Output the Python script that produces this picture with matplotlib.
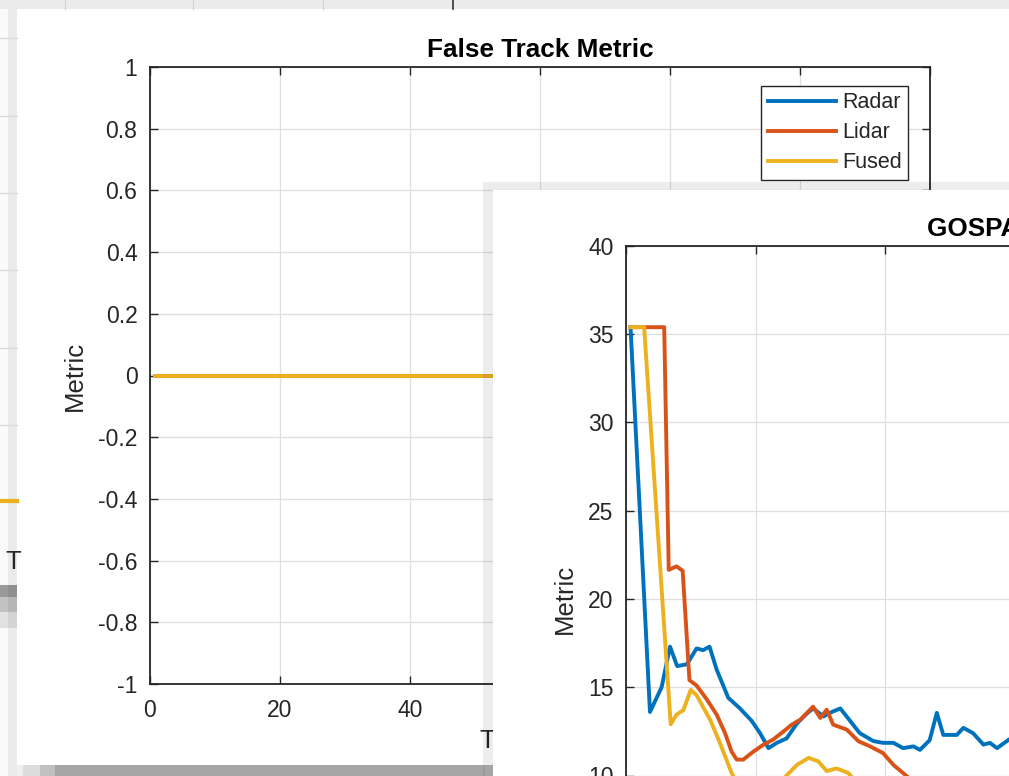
#!/usr/bin/env python3
"""Two overlapping MATLAB-style figure windows: False Track Metric and GOSPA Metric."""

import matplotlib

matplotlib.use("Agg")

import matplotlib.pyplot as plt
from matplotlib import patches

W, H = 1009, 776

RADAR = "#0072BD"
LIDAR = "#D95319"
FUSED = "#EDB120"
AXIS = "#262626"
GRID = "#dfdfdf"

SERIES_NAMES = ["Radar", "Lidar", "Fused"]

# False Track Metric window: every series stays at zero
FT_TIME = [0.75, 20.0, 40.0, 60.0, 80.0, 100.0]
FT_RADAR = [0, 0, 0, 0, 0, 0]
FT_LIDAR = [0, 0, 0, 0, 0, 0]
FT_FUSED = [0, 0, 0, 0, 0, 0]

# GOSPA Metric window (only the visible part of the curves)
RADAR_TIME = [0.7, 3.7, 5.5, 6.8, 7.9, 9.4, 10.9, 11.9, 12.9, 14.0, 15.8, 17.6,
              19.4, 20.7, 22.0, 23.3, 24.8, 26.4, 27.9, 28.9, 30.5, 31.8, 33.1,
              34.6, 36.1, 38.2, 39.7, 41.3, 42.8, 44.4, 45.4, 46.9, 48.0, 49.0,
              51.1, 52.1, 53.6, 55.2, 56.2, 57.3, 59.2, 61.0]
RADAR_GOSPA = [35.4, 13.6, 15.0, 17.3, 16.2, 16.3, 17.2, 17.1, 17.3, 16.0, 14.4,
               13.8, 13.1, 12.4, 11.55, 11.85, 12.1, 12.95, 13.5, 13.8, 13.35,
               13.6, 13.8, 13.1, 12.4, 11.95, 11.85, 11.85, 11.55, 11.65, 11.45,
               12.0, 13.55, 12.3, 12.3, 12.7, 12.4, 11.75, 11.85, 11.55, 12.05, 12.2]

LIDAR_TIME = [0.7, 5.9, 6.6, 7.8, 8.75, 9.8, 10.9, 12.5, 14.0, 15.3, 16.3, 17.1,
              18.1, 19.7, 21.2, 22.7, 24.0, 25.6, 26.9, 28.9, 30.0, 31.0, 32.0,
              34.1, 35.9, 37.7, 39.7, 41.3, 43.4, 45.0]
LIDAR_GOSPA = [35.4, 35.4, 21.65, 21.85, 21.6, 15.4, 15.1, 14.3, 13.45, 12.4,
               11.36, 10.9, 10.9, 11.36, 11.74, 12.03, 12.4, 12.88, 13.16, 13.9,
               13.26, 13.73, 12.88, 12.6, 11.94, 11.65, 11.27, 10.6, 9.95, 9.4]

FUSED_TIME = [0.7, 2.8, 6.9, 7.8, 8.85, 10.0, 10.9, 13.0, 14.5, 16.3, 18.0, 20.0,
              22.0, 23.5, 24.8, 26.4, 28.2, 29.7, 31.0, 32.5, 34.3, 35.6, 37.0]
FUSED_GOSPA = [35.4, 35.4, 12.9, 13.45, 13.7, 14.85, 14.55, 13.15, 11.85, 10.15,
               9.0, 8.6, 8.9, 9.5, 10.0, 10.6, 11.0, 10.8, 10.25, 10.4, 10.15,
               9.6, 9.2]

FT_YTICKS = [-1, -0.8, -0.6, -0.4, -0.2, 0, 0.2, 0.4, 0.6, 0.8, 1]
FT_YTICKLABELS = ["-1", "-0.8", "-0.6", "-0.4", "-0.2", "0", "0.2", "0.4", "0.6", "0.8", "1"]
XTICKS = [0, 20, 40, 60, 80, 100, 120]
GOSPA_YTICKS = [0, 5, 10, 15, 20, 25, 30, 35, 40]


def fig_rect(left, top, right, bottom):
    """Pixel box (from top-left) to figure fraction rect."""
    return [left / W, 1 - bottom / H, (right - left) / W, (bottom - top) / H]


def rect(ax, x0, y0, x1, y1, color, alpha=1.0):
    ax.add_patch(patches.Rectangle((x0, y0), x1 - x0, y1 - y0, facecolor=color,
                                   edgecolor="none", alpha=alpha))


def pixel_axes(fig, zorder):
    ax = fig.add_axes([0, 0, 1, 1], zorder=zorder)
    ax.set_xlim(0, W)
    ax.set_ylim(H, 0)
    ax.set_axis_off()
    ax.patch.set_alpha(0)
    return ax


def style_axes(ax, title):
    ax.set_facecolor("white")
    for spine in ax.spines.values():
        spine.set_color(AXIS)
        spine.set_linewidth(1.3)
    ax.tick_params(direction="in", length=5.6, width=1.0, color=AXIS,
                   labelcolor=AXIS, labelsize=16.5, top=True, right=True)
    ax.tick_params(axis="x", pad=10.5)
    ax.tick_params(axis="y", pad=9)
    ax.grid(True, color=GRID, linewidth=0.9)
    ax.set_axisbelow(True)
    ax.set_title(title, fontsize=18.8, fontweight="bold", color="black", pad=7)
    ax.set_ylabel("Metric", fontsize=18.5, color=AXIS, labelpad=8)


def draw_background(ax):
    rect(ax, 0, 0, W, H, "#fafafa")
    rect(ax, 0, 0, W, 9, "#ebebeb")
    for x in (65, 193, 323):
        ax.plot([x, x], [0, 9], color="#d4d4d4", lw=0.9)
    ax.plot([453, 453], [0, 9], color="#333333", lw=1.2)
    for y in (37.7, 115.7, 192.7, 270, 347.7, 425):
        ax.plot([0, 17], [y, y], color="#d9d9d9", lw=0.9)
    ax.plot([0, 17], [501, 501], color=FUSED, lw=3)
    ax.text(5, 562, "T", fontsize=18.5, color=AXIS, ha="left", va="center")
    rect(ax, 0, 585, 17, 597, "#9a9a9a")
    rect(ax, 0, 597, 17, 612, "#c2c2c2")
    rect(ax, 0, 612, 17, 628, "#e2e2e2")
    rect(ax, 8, 9, 17, H, "black", alpha=0.06)
    # first window
    rect(ax, 17, 9, W, 765, "white")
    rect(ax, 17, 765, 23, H, "#efefef")
    rect(ax, 23, 765, 40, H, "#dcdcdc")
    rect(ax, 40, 765, 55, H, "#c0c0c0")
    rect(ax, 55, 765, 485, H, "#a6a6a6")
    rect(ax, 485, 765, 493, H, "#b2b2b2")


def draw_second_window(ax):
    rect(ax, 483, 182, W, 190, "black", alpha=0.07)
    rect(ax, 483, 190, 493, H, "black", alpha=0.07)
    rect(ax, 493, 190, W, H, "white")


def main():
    plt.rcParams["font.family"] = ["Liberation Sans", "DejaVu Sans"]
    fig = plt.figure(figsize=(W / 100, H / 100), dpi=100)

    bg = pixel_axes(fig, 0)
    draw_background(bg)

    # False Track Metric
    ax1 = fig.add_axes(fig_rect(150, 67, 930, 684), zorder=1)
    style_axes(ax1, "False Track Metric")
    ax1.plot(FT_TIME, FT_RADAR, color=RADAR, lw=2.8, label=SERIES_NAMES[0])
    ax1.plot(FT_TIME, FT_LIDAR, color=LIDAR, lw=2.8, label=SERIES_NAMES[1])
    ax1.plot(FT_TIME, FT_FUSED, color=FUSED, lw=2.8, label=SERIES_NAMES[2])
    ax1.set_xlim(0, 120)
    ax1.set_ylim(-1, 1)
    ax1.set_xticks(XTICKS)
    ax1.set_yticks(FT_YTICKS, FT_YTICKLABELS)
    ax1.set_xlabel("Time (sec)", fontsize=18.5, color=AXIS, labelpad=5)
    leg = ax1.legend(loc="upper right", bbox_to_anchor=(0.9718, 0.9692),
                     borderaxespad=0, fontsize=15.5, handlelength=3.2,
                     handletextpad=0.25, labelspacing=0.41, borderpad=0.3,
                     fancybox=False, framealpha=1, edgecolor=AXIS)
    leg.get_frame().set_linewidth(1.0)
    for text in leg.get_texts():
        text.set_color(AXIS)

    overlay = pixel_axes(fig, 2)
    draw_second_window(overlay)

    # GOSPA Metric
    ax2 = fig.add_axes(fig_rect(626, 246, 1403, 952), zorder=3)
    style_axes(ax2, "GOSPA Metric")
    ax2.plot(RADAR_TIME, RADAR_GOSPA, color=RADAR, lw=2.8, label=SERIES_NAMES[0])
    ax2.plot(LIDAR_TIME, LIDAR_GOSPA, color=LIDAR, lw=2.8, label=SERIES_NAMES[1])
    ax2.plot(FUSED_TIME, FUSED_GOSPA, color=FUSED, lw=2.8, label=SERIES_NAMES[2])
    ax2.set_xlim(0, 120)
    ax2.set_ylim(0, 40)
    ax2.set_xticks(XTICKS)
    ax2.set_yticks(GOSPA_YTICKS)

    fig.savefig("out.png", dpi=100)
    plt.close(fig)


if __name__ == "__main__":
    main()
